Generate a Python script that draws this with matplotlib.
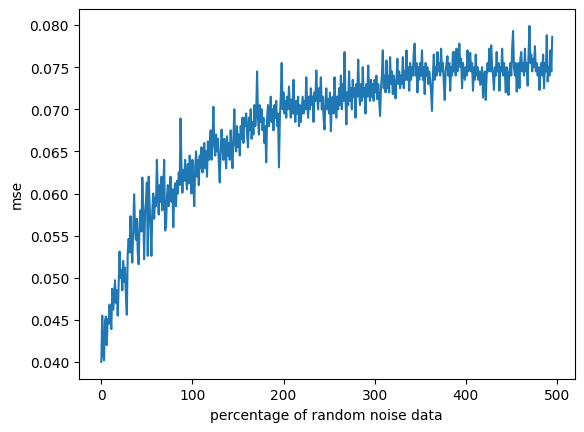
import matplotlib
matplotlib.use("Agg")
import matplotlib.pyplot as plt
import numpy as np

mse = [
    # 0-29
    0.0400, 0.0455, 0.0410, 0.0402, 0.0448, 0.0454, 0.0420, 0.0451, 0.0445, 0.0468,
    0.0452, 0.0439, 0.0487, 0.0462, 0.0475, 0.0497, 0.0470, 0.0485, 0.0455, 0.0490,
    0.0531, 0.0500, 0.0509, 0.0485, 0.0520, 0.0495, 0.0512, 0.0478, 0.0456, 0.0530,
    # 30-59
    0.0546, 0.0530, 0.0573, 0.0540, 0.0518, 0.0555, 0.0599, 0.0560, 0.0545, 0.0570,
    0.0530, 0.0516, 0.0565, 0.0580, 0.0555, 0.0619, 0.0580, 0.0522, 0.0575, 0.0590,
    0.0613, 0.0526, 0.0620, 0.0587, 0.0560, 0.0526, 0.0580, 0.0600, 0.0570, 0.0595,
    # 60-89
    0.0585, 0.0640, 0.0600, 0.0575, 0.0610, 0.0590, 0.0620, 0.0580, 0.0605, 0.0640,
    0.0556, 0.0560, 0.0595, 0.0610, 0.0585, 0.0600, 0.0620, 0.0590, 0.0605, 0.0560,
    0.0600, 0.0612, 0.0585, 0.0615, 0.0600, 0.0625, 0.0610, 0.0689, 0.0630, 0.0601,
    # 90-119
    0.0628, 0.0615, 0.0640, 0.0620, 0.0605, 0.0635, 0.0612, 0.0645, 0.0625, 0.0600,
    0.0640, 0.0615, 0.0585, 0.0630, 0.0650, 0.0620, 0.0640, 0.0610, 0.0645, 0.0630,
    0.0655, 0.0625, 0.0640, 0.0660, 0.0630, 0.0650, 0.0620, 0.0662, 0.0640, 0.0655,
    # 120-149
    0.0675, 0.0640, 0.0660, 0.0703, 0.0660, 0.0645, 0.0670, 0.0650, 0.0665, 0.0635,
    0.0613, 0.0650, 0.0676, 0.0655, 0.0640, 0.0665, 0.0650, 0.0630, 0.0668, 0.0645,
    0.0660, 0.0640, 0.0675, 0.0650, 0.0630, 0.0665, 0.0700, 0.0660, 0.0650, 0.0680,
    # 150-179
    0.0655, 0.0670, 0.0645, 0.0680, 0.0665, 0.0690, 0.0660, 0.0690, 0.0680, 0.0695,
    0.0670, 0.0655, 0.0690, 0.0675, 0.0700, 0.0665, 0.0685, 0.0670, 0.0705, 0.0680,
    0.0695, 0.0745, 0.0690, 0.0670, 0.0705, 0.0685, 0.0700, 0.0675, 0.0690, 0.0660,
    # 180-209
    0.0680, 0.0637, 0.0690, 0.0705, 0.0680, 0.0695, 0.0715, 0.0685, 0.0700, 0.0675,
    0.0705, 0.0690, 0.0710, 0.0680, 0.0695, 0.0631, 0.0690, 0.0715, 0.0755, 0.0700,
    0.0720, 0.0695, 0.0710, 0.0690, 0.0715, 0.0700, 0.0727, 0.0705, 0.0690, 0.0712,
    # 210-239
    0.0695, 0.0735, 0.0700, 0.0685, 0.0710, 0.0695, 0.0715, 0.0680, 0.0705, 0.0685,
    0.0700, 0.0715, 0.0695, 0.0710, 0.0700, 0.0738, 0.0705, 0.0690, 0.0715, 0.0700,
    0.0725, 0.0705, 0.0715, 0.0685, 0.0720, 0.0710, 0.0746, 0.0715, 0.0700, 0.0725,
    # 240-269
    0.0710, 0.0738, 0.0700, 0.0715, 0.0690, 0.0676, 0.0710, 0.0725, 0.0700, 0.0712,
    0.0695, 0.0720, 0.0674, 0.0705, 0.0715, 0.0695, 0.0738, 0.0705, 0.0690, 0.0715,
    0.0700, 0.0725, 0.0705, 0.0740, 0.0700, 0.0730, 0.0710, 0.0768, 0.0715, 0.0682,
    # 270-299
    0.0720, 0.0705, 0.0745, 0.0710, 0.0725, 0.0700, 0.0735, 0.0715, 0.0725, 0.0690,
    0.0730, 0.0715, 0.0759, 0.0720, 0.0705, 0.0730, 0.0710, 0.0750, 0.0715, 0.0725,
    0.0695, 0.0730, 0.0715, 0.0752, 0.0720, 0.0710, 0.0735, 0.0715, 0.0730, 0.0710,
    # 300-329
    0.0735, 0.0720, 0.0740, 0.0712, 0.0730, 0.0710, 0.0692, 0.0725, 0.0740, 0.0770,
    0.0725, 0.0740, 0.0720, 0.0758, 0.0725, 0.0740, 0.0720, 0.0762, 0.0730, 0.0745,
    0.0718, 0.0740, 0.0730, 0.0713, 0.0735, 0.0760, 0.0730, 0.0745, 0.0725, 0.0740,
    # 330-359
    0.0730, 0.0762, 0.0725, 0.0745, 0.0735, 0.0770, 0.0735, 0.0750, 0.0722, 0.0755,
    0.0735, 0.0750, 0.0740, 0.0768, 0.0778, 0.0740, 0.0755, 0.0720, 0.0750, 0.0735,
    0.0755, 0.0740, 0.0770, 0.0735, 0.0750, 0.0718, 0.0755, 0.0740, 0.0750, 0.0730,
    # 360-389
    0.0745, 0.0735, 0.0720, 0.0698, 0.0740, 0.0765, 0.0735, 0.0750, 0.0740, 0.0768,
    0.0745, 0.0755, 0.0740, 0.0772, 0.0745, 0.0755, 0.0730, 0.0711, 0.0745, 0.0755,
    0.0763, 0.0740, 0.0755, 0.0722, 0.0750, 0.0740, 0.0768, 0.0745, 0.0768, 0.0740,
    # 390-419
    0.0772, 0.0745, 0.0755, 0.0778, 0.0750, 0.0760, 0.0725, 0.0755, 0.0745, 0.0735,
    0.0750, 0.0740, 0.0770, 0.0745, 0.0760, 0.0767, 0.0745, 0.0755, 0.0722, 0.0750,
    0.0735, 0.0765, 0.0740, 0.0750, 0.0735, 0.0745, 0.0729, 0.0740, 0.0750, 0.0714,
    # 420-449
    0.0735, 0.0745, 0.0711, 0.0740, 0.0755, 0.0745, 0.0772, 0.0745, 0.0776, 0.0750,
    0.0740, 0.0723, 0.0750, 0.0740, 0.0768, 0.0745, 0.0755, 0.0722, 0.0750, 0.0745,
    0.0772, 0.0740, 0.0755, 0.0745, 0.0720, 0.0750, 0.0740, 0.0717, 0.0745, 0.0755,
    # 450-479
    0.0740, 0.0772, 0.0793, 0.0750, 0.0740, 0.0755, 0.0721, 0.0745, 0.0755, 0.0725,
    0.0760, 0.0768, 0.0745, 0.0755, 0.0740, 0.0772, 0.0745, 0.0755, 0.0728, 0.0765,
    0.0799, 0.0755, 0.0765, 0.0745, 0.0760, 0.0750, 0.0775, 0.0745, 0.0755, 0.0740,
    # 480-495
    0.0750, 0.0723, 0.0745, 0.0755, 0.0740, 0.0765, 0.0725, 0.0755, 0.0745, 0.0788,
    0.0733, 0.0750, 0.0740, 0.0770, 0.0745, 0.0786,
]
x = np.arange(len(mse))

fig, ax = plt.subplots(figsize=(6.4, 4.8), dpi=100)
ax.plot(x, mse)
ax.set_xlabel("percentage of random noise data")
ax.set_ylabel("mse")
fig.savefig("out.png", dpi=100, bbox_inches="tight")
